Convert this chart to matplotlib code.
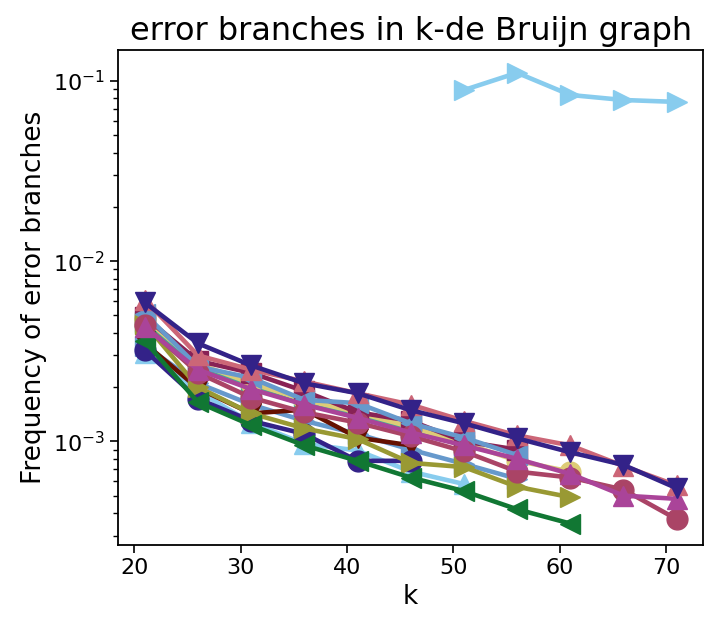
import numpy as np
import matplotlib
matplotlib.use("Agg")
import matplotlib.pyplot as plt

# k values used by every run
k_full = [21, 26, 31, 36, 41, 46, 51, 56, 61, 66, 71]

# one entry per run: (k values, frequencies, colour, marker), drawn in this order
teal_y = [4.6e-3, 2.6e-3, 2.0e-3, 1.6e-3, 1.4e-3, 1.15e-3, 0.95e-3]
sand_y = [4.8e-3, 2.7e-3, 2.1e-3, 1.7e-3, 1.45e-3, 1.2e-3, 0.98e-3, 0.78e-3, 0.68e-3]
wine_y = [4.9e-3, 2.8e-3, 2.4e-3, 1.9e-3, 1.45e-3, 1.3e-3, 1.0e-3, 0.9e-3]
blue2_y = [3.4e-3, 2.1e-3, 1.6e-3, 1.3e-3, 1.1e-3, 0.9e-3, 0.75e-3, 0.62e-3]
lblue_low_y = [3.1e-3, 1.9e-3, 1.27e-3, 0.97e-3, 0.89e-3, 0.68e-3, 0.58e-3]
darkred_y = [3.5e-3, 1.97e-3, 1.43e-3, 1.5e-3, 1.05e-3, 0.95e-3]
indigo_o_y = [3.2e-3, 1.72e-3, 1.3e-3, 1.1e-3, 0.78e-3, 0.78e-3]
olive_y = [4.5e-3, 2.0e-3, 1.43e-3, 1.18e-3, 1.03e-3, 0.76e-3, 0.72e-3, 0.56e-3, 0.49e-3]
green_y = [3.6e-3, 1.65e-3, 1.23e-3, 0.95e-3, 0.78e-3, 0.63e-3, 0.53e-3, 0.42e-3, 0.35e-3]
blue1_y = [5.1e-3, 2.6e-3, 2.25e-3, 1.7e-3, 1.63e-3, 1.26e-3, 1.05e-3, 0.84e-3]
rosewine_y = [4.4e-3, 2.4e-3, 1.75e-3, 1.45e-3, 1.27e-3, 1.07e-3, 0.88e-3, 0.68e-3, 0.63e-3, 0.54e-3, 0.37e-3]
purple_y = [4.3e-3, 2.5e-3, 1.95e-3, 1.6e-3, 1.35e-3, 1.12e-3, 0.95e-3, 0.8e-3, 0.66e-3, 0.5e-3, 0.48e-3]
rose_y = [6.1e-3, 3.0e-3, 2.5e-3, 2.15e-3, 1.85e-3, 1.6e-3, 1.3e-3, 1.08e-3, 0.95e-3, 0.73e-3, 0.57e-3]
indigo_v_y = [5.9e-3, 3.5e-3, 2.64e-3, 2.1e-3, 1.85e-3, 1.49e-3, 1.26e-3, 1.04e-3, 0.87e-3, 0.74e-3, 0.55e-3]
lblue_top_k = [51, 56, 61, 66, 71]
lblue_top_y = [0.089, 0.111, 0.0836, 0.0784, 0.0765]

runs = [
    (k_full[:len(teal_y)], teal_y, "#44AA99", "s"),
    (k_full[:len(sand_y)], sand_y, "#DDCC77", "o"),
    (k_full[:len(wine_y)], wine_y, "#882255", "s"),
    (k_full[:len(blue2_y)], blue2_y, "#6699CC", ">"),
    (k_full[:len(lblue_low_y)], lblue_low_y, "#88CCEE", "^"),
    (k_full[:len(darkred_y)], darkred_y, "#661100", "v"),
    (k_full[:len(indigo_o_y)], indigo_o_y, "#332288", "o"),
    (k_full[:len(olive_y)], olive_y, "#999933", ">"),
    (k_full[:len(green_y)], green_y, "#117733", "<"),
    (k_full[:len(blue1_y)], blue1_y, "#6699CC", "<"),
    (k_full[:len(rosewine_y)], rosewine_y, "#AA4466", "o"),
    (k_full[:len(purple_y)], purple_y, "#AA4499", "^"),
    (k_full[:len(rose_y)], rose_y, "#CC6677", "^"),
    (k_full[:len(indigo_v_y)], indigo_v_y, "#332288", "v"),
    (lblue_top_k, lblue_top_y, "#88CCEE", ">"),
]

fig = plt.figure(figsize=(7.25, 6.19), dpi=100)
ax = fig.add_axes([0.163, 0.1195, 0.807, 0.7997])

for k, y, color, marker in runs:
    ax.plot(k, y, color=color, marker=marker, markersize=15, linewidth=3.3)

ax.set_yscale("log")
ax.set_xlim(18.5, 73.5)
ax.set_ylim(2.66e-4, 0.1485)
ax.set_xticks([20, 30, 40, 50, 60, 70])
ax.tick_params(axis="both", which="major", labelsize=16, length=6, width=1.2)
ax.tick_params(axis="y", which="minor", length=3.5, width=1)
for side in ax.spines.values():
    side.set_linewidth(1.3)

ax.set_xlabel("k", fontsize=19)
ax.set_ylabel("Frequency of error branches", fontsize=19)
ax.set_title("error branches in k-de Bruijn graph", fontsize=23, pad=7)

fig.savefig("out.png", dpi=100)
